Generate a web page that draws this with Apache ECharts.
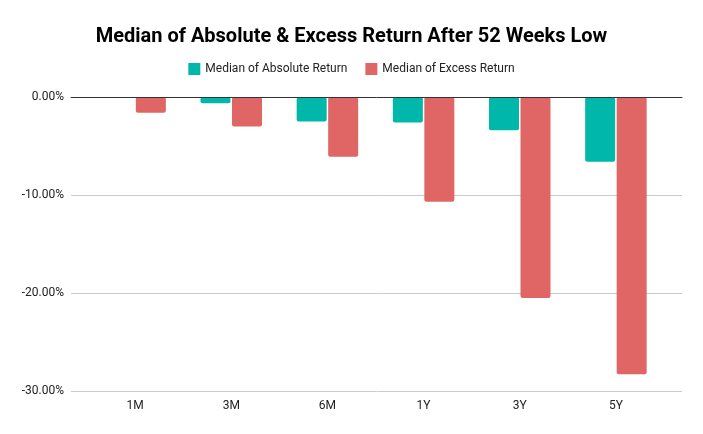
<!DOCTYPE html>
<html>
<head>
<meta charset="utf-8">
<script src="https://cdn.jsdelivr.net/npm/echarts@6/dist/echarts.min.js"></script>
<style>html,body{margin:0;padding:0;background:#fff}#c{width:703px;height:434px}</style>
</head>
<body>
<div id="c"></div>
<script>
const categories = ['1M', '3M', '6M', '1Y', '3Y', '5Y'];
const absoluteReturn = [0, -0.65, -2.5, -2.6, -3.4, -6.6];
const excessReturn = [-1.6, -3.0, -6.1, -10.7, -20.5, -28.3];
const yTicks = [0, -10, -20, -30];

const chart = echarts.init(document.getElementById('c'));
const fontFamily = 'Roboto, "Noto Sans", sans-serif';
chart.setOption({
  animation: false,
  textStyle: { fontFamily: fontFamily },
  title: {
    text: 'Median of Absolute & Excess Return After 52 Weeks Low',
    left: 'center', top: 22,
    textStyle: { fontSize: 20, fontWeight: 'bold', color: '#000', fontFamily: fontFamily }
  },
  legend: {
    top: 58, left: 'center',
    itemWidth: 12, itemHeight: 12, itemGap: 18,
    icon: 'rect',
    textStyle: { fontSize: 12, color: '#222', fontFamily: fontFamily },
    data: ['Median of Absolute Return', 'Median of Excess Return']
  },
  grid: [
    { left: 87, right: 39, top: 97, bottom: 43 },
    { left: 71, right: 21, top: 97, bottom: 43 }
  ],
  xAxis: [
    {
      gridIndex: 0, type: 'category', data: categories, position: 'bottom',
      axisLine: { show: false, onZero: false }, axisTick: { show: false },
      axisLabel: { fontSize: 12, color: '#222', margin: 9 }
    },
    {
      gridIndex: 1, type: 'value', min: 0, max: 1, z: 10,
      axisLine: { show: true, onZero: true, lineStyle: { color: '#333', width: 1 } },
      axisTick: { show: false }, axisLabel: { show: false }, splitLine: { show: false }
    }
  ],
  yAxis: [
    {
      gridIndex: 0, type: 'value', min: yTicks[yTicks.length - 1], max: yTicks[0], interval: 10,
      axisLine: { show: false }, axisTick: { show: false }, axisLabel: { show: false }, splitLine: { show: false }
    },
    {
      gridIndex: 1, type: 'value', min: yTicks[yTicks.length - 1], max: yTicks[0], interval: 10,
      axisLine: { show: false }, axisTick: { show: false },
      axisLabel: { fontSize: 12, color: '#222', margin: 7, formatter: v => v.toFixed(2) + '%' },
      splitLine: { lineStyle: { color: '#cccccc', width: 1 } }
    }
  ],
  series: [
    {
      name: 'Median of Absolute Return', type: 'bar', xAxisIndex: 0, yAxisIndex: 0,
      data: absoluteReturn, barWidth: 30, barGap: '5%',
      itemStyle: { color: '#00b8aa', borderRadius: 2 }
    },
    {
      name: 'Median of Excess Return', type: 'bar', xAxisIndex: 0, yAxisIndex: 0,
      data: excessReturn, barWidth: 30, barGap: '5%',
      itemStyle: { color: '#e06666', borderRadius: 2 }
    }
  ]
});
</script>
</body>
</html>
